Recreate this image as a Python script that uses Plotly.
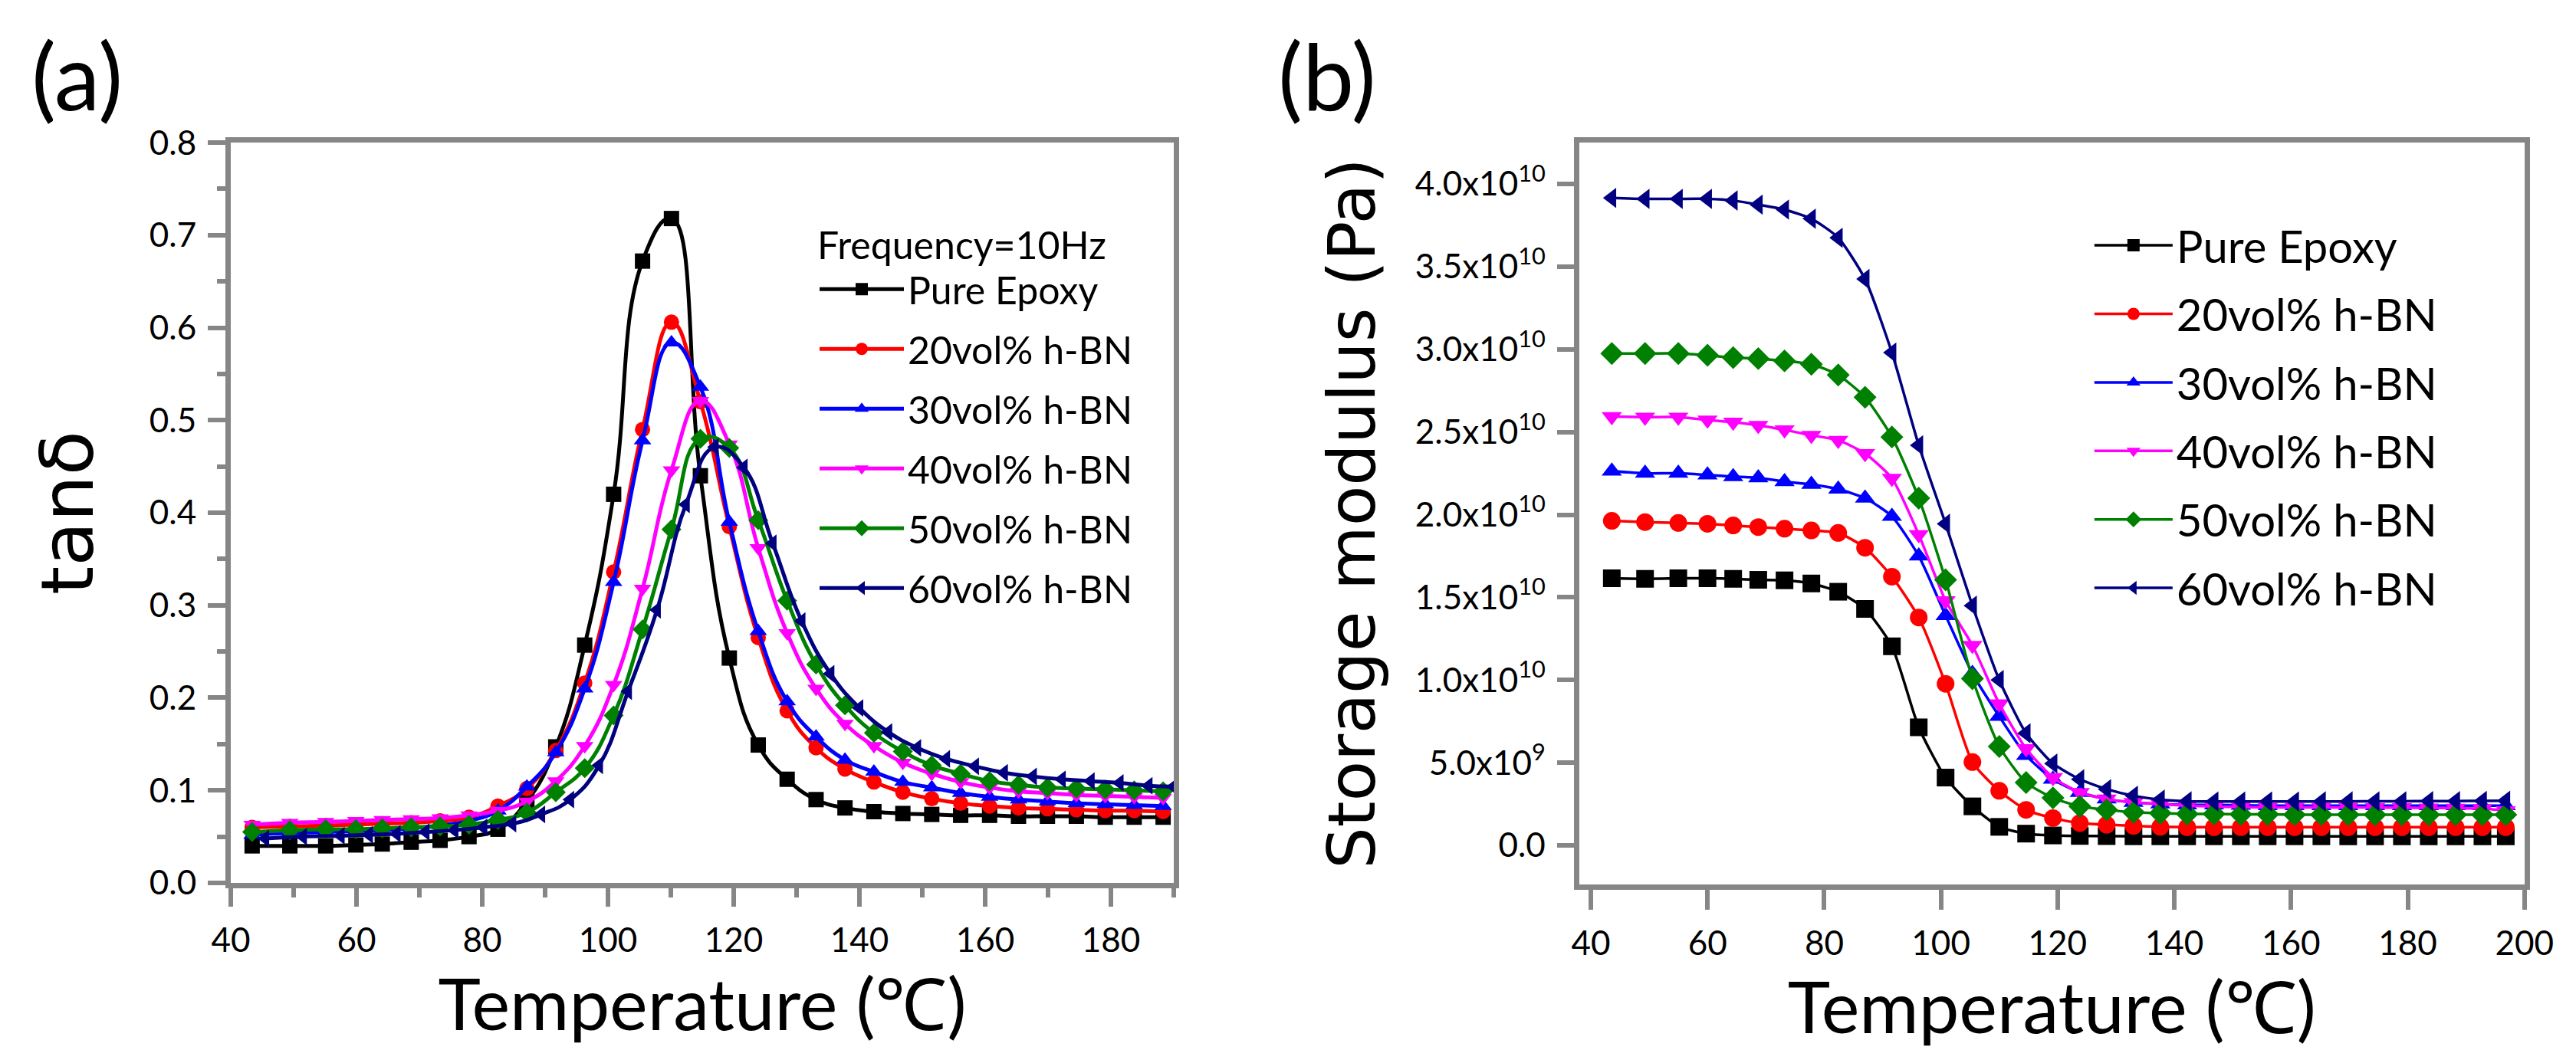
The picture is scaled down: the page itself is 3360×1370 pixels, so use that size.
import plotly.graph_objects as go

# ---------------- Panel (a): tan delta ----------------
t_a = [43.4, 49.4, 55.1, 59.9, 64.1, 68.7, 73.3, 77.9, 82.5, 87.1, 91.7, 96.3, 100.9, 105.5,
       110.1, 114.7, 119.3, 123.9, 128.5, 133.1, 137.7, 142.3, 146.9, 151.5, 156.1, 160.7,
       165.3, 169.9, 174.5, 179.1, 183.7, 188.3]
t_a60 = [45.5, 51.5, 57.5, 62.0, 66.4, 71.0, 75.6, 80.2, 84.8, 89.4, 94.0, 98.6, 103.2, 107.8,
         112.4, 117.0, 121.6, 126.2, 130.8, 135.4, 140.0, 144.6, 149.2, 153.8, 158.4, 163.0,
         167.6, 172.2, 176.8, 181.4, 186.0, 190.0]

tan_pure = [0.040, 0.040, 0.040, 0.041, 0.042, 0.044, 0.046, 0.050, 0.058, 0.088, 0.147, 0.257,
            0.420, 0.672, 0.718, 0.440, 0.243, 0.149, 0.112, 0.090, 0.081, 0.077, 0.075, 0.074,
            0.073, 0.073, 0.072, 0.072, 0.072, 0.071, 0.071, 0.071]
tan_20 = [0.060, 0.061, 0.062, 0.063, 0.064, 0.065, 0.067, 0.071, 0.083, 0.102, 0.143, 0.216,
          0.336, 0.490, 0.606, 0.520, 0.385, 0.265, 0.186, 0.146, 0.123, 0.109, 0.098, 0.091,
          0.086, 0.083, 0.081, 0.080, 0.079, 0.078, 0.078, 0.077]
tan_30 = [0.052, 0.054, 0.055, 0.056, 0.057, 0.059, 0.062, 0.067, 0.078, 0.104, 0.141, 0.210,
          0.325, 0.478, 0.584, 0.536, 0.390, 0.272, 0.196, 0.158, 0.133, 0.120, 0.109, 0.103,
          0.097, 0.093, 0.090, 0.088, 0.086, 0.085, 0.084, 0.083]
tan_40 = [0.063, 0.065, 0.066, 0.067, 0.068, 0.069, 0.070, 0.073, 0.078, 0.088, 0.110, 0.148,
          0.214, 0.318, 0.446, 0.521, 0.474, 0.362, 0.270, 0.210, 0.172, 0.148, 0.130, 0.118,
          0.109, 0.103, 0.099, 0.097, 0.095, 0.094, 0.093, 0.092]
tan_50 = [0.055, 0.057, 0.058, 0.058, 0.059, 0.060, 0.061, 0.063, 0.068, 0.076, 0.098, 0.124,
          0.181, 0.274, 0.382, 0.480, 0.470, 0.392, 0.305, 0.236, 0.192, 0.162, 0.142, 0.127,
          0.118, 0.110, 0.106, 0.103, 0.102, 0.101, 0.100, 0.099]
tan_60 = [0.048, 0.050, 0.051, 0.052, 0.053, 0.055, 0.057, 0.060, 0.064, 0.074, 0.090, 0.127,
          0.207, 0.295, 0.409, 0.471, 0.449, 0.367, 0.283, 0.226, 0.189, 0.163, 0.146, 0.134,
          0.126, 0.119, 0.115, 0.112, 0.110, 0.108, 0.105, 0.104]

# ---------------- Panel (b): storage modulus ----------------
t_b = [43.6, 49.3, 55.0, 60.0, 64.4, 68.7, 73.2, 77.8, 82.4, 87.0, 91.6, 96.2, 100.8, 105.4,
       110.0, 114.6, 119.2, 123.8, 128.4, 133.0, 137.6, 142.2, 146.8, 151.4, 156.0, 160.6,
       165.2, 169.8, 174.4, 179.0, 183.6, 188.2, 192.8, 196.8]

e_pure = [1.615e10, 1.612e10, 1.615e10, 1.615e10, 1.612e10, 1.606e10, 1.603e10, 1.584e10,
          1.534e10, 1.430e10, 1.204e10, 7.14e9, 4.10e9, 2.36e9, 1.12e9, 7.1e8, 6.0e8, 5.7e8,
          5.6e8, 5.5e8, 5.5e8, 5.5e8, 5.5e8, 5.5e8, 5.5e8, 5.5e8, 5.5e8, 5.5e8, 5.5e8, 5.5e8,
          5.5e8, 5.5e8, 5.5e8, 5.5e8]
e_20 = [1.963e10, 1.955e10, 1.950e10, 1.945e10, 1.935e10, 1.925e10, 1.915e10, 1.905e10,
        1.890e10, 1.800e10, 1.625e10, 1.378e10, 9.77e9, 5.04e9, 3.30e9, 2.15e9, 1.65e9, 1.35e9,
        1.25e9, 1.18e9, 1.12e9, 1.10e9, 1.10e9, 1.10e9, 1.10e9, 1.10e9, 1.10e9, 1.10e9, 1.10e9,
        1.10e9, 1.10e9, 1.10e9, 1.10e9, 1.10e9]
e_30 = [2.263e10, 2.250e10, 2.250e10, 2.240e10, 2.230e10, 2.223e10, 2.200e10, 2.183e10,
        2.154e10, 2.100e10, 1.990e10, 1.750e10, 1.390e10, 1.040e10, 7.80e9, 5.44e9, 4.00e9,
        3.20e9, 2.80e9, 2.60e9, 2.50e9, 2.45e9, 2.45e9, 2.42e9, 2.40e9, 2.40e9, 2.40e9, 2.40e9,
        2.40e9, 2.40e9, 2.40e9, 2.40e9, 2.40e9, 2.40e9]
e_40 = [2.593e10, 2.590e10, 2.590e10, 2.573e10, 2.560e10, 2.540e10, 2.513e10, 2.480e10,
        2.450e10, 2.370e10, 2.220e10, 1.880e10, 1.480e10, 1.210e10, 8.56e9, 5.85e9, 4.10e9,
        3.20e9, 2.80e9, 2.60e9, 2.50e9, 2.40e9, 2.35e9, 2.32e9, 2.30e9, 2.30e9, 2.30e9, 2.30e9,
        2.28e9, 2.28e9, 2.26e9, 2.25e9, 2.22e9, 2.10e9]
e_50 = [2.975e10, 2.975e10, 2.975e10, 2.964e10, 2.950e10, 2.944e10, 2.930e10, 2.910e10,
        2.845e10, 2.710e10, 2.470e10, 2.100e10, 1.606e10, 1.008e10, 5.98e9, 3.80e9, 2.87e9,
        2.36e9, 2.15e9, 2.00e9, 1.95e9, 1.90e9, 1.90e9, 1.88e9, 1.88e9, 1.86e9, 1.86e9, 1.86e9,
        1.85e9, 1.85e9, 1.85e9, 1.85e9, 1.85e9, 1.85e9]
e_60 = [3.916e10, 3.910e10, 3.910e10, 3.910e10, 3.900e10, 3.875e10, 3.845e10, 3.790e10,
        3.675e10, 3.425e10, 2.980e10, 2.420e10, 1.945e10, 1.450e10, 1.000e10, 6.78e9, 4.95e9,
        4.00e9, 3.40e9, 3.00e9, 2.77e9, 2.67e9, 2.65e9, 2.65e9, 2.65e9, 2.65e9, 2.66e9, 2.66e9,
        2.67e9, 2.67e9, 2.68e9, 2.68e9, 2.69e9, 2.70e9]

series_names = ["Pure Epoxy", "20vol% h-BN", "30vol% h-BN", "40vol% h-BN", "50vol% h-BN", "60vol% h-BN"]
colors = ["#000000", "#FF0000", "#0000FF", "#FF00FF", "#008000", "#000080"]
symbols = ["square", "circle", "triangle-up", "triangle-down", "diamond", "triangle-left"]

ticks_a_x = [40, 60, 80, 100, 120, 140, 160, 180]
ticks_b_x = [40, 60, 80, 100, 120, 140, 160, 180, 200]
ticks_b_y = [0, 5e9, 1e10, 1.5e10, 2e10, 2.5e10, 3e10, 3.5e10, 4e10]
ticktext_b_y = ["0.0", "5.0x10<sup>9</sup>", "1.0x10<sup>10</sup>", "1.5x10<sup>10</sup>",
                "2.0x10<sup>10</sup>", "2.5x10<sup>10</sup>", "3.0x10<sup>10</sup>",
                "3.5x10<sup>10</sup>", "4.0x10<sup>10</sup>"]

AX = "#868686"
TICKFONT = dict(family="Lato, Liberation Sans Narrow, sans-serif", size=44, color="black")
LEGFONT = "Lato, Liberation Sans Narrow, sans-serif"
XTITLE = "Temperature (℃)"

fig = go.Figure()

tan_x = [t_a, t_a, t_a, t_a, t_a, t_a60]
tan_y = [tan_pure, tan_20, tan_30, tan_40, tan_50, tan_60]
for i in range(6):
    fig.add_trace(go.Scatter(
        x=tan_x[i], y=tan_y[i], mode="lines+markers", name=series_names[i],
        line=dict(color=colors[i], width=5, shape="spline", smoothing=1.3),
        marker=dict(symbol=symbols[i], size=20, color=colors[i]),
        xaxis="x", yaxis="y", legend="legend", legendgroup="a%d" % i))

e_y = [e_pure, e_20, e_30, e_40, e_50, e_60]
for i in range(6):
    fig.add_trace(go.Scatter(
        x=t_b, y=e_y[i], mode="lines+markers", name=series_names[i],
        line=dict(color=colors[i], width=3.5, shape="spline", smoothing=0.6),
        marker=dict(symbol=symbols[i], size=23, color=colors[i]),
        xaxis="x2", yaxis="y2", legend="legend2", legendgroup="b%d" % i))

axis_common = dict(showgrid=False, zeroline=False, showline=True, linecolor=AX, linewidth=7,
                   mirror=True, ticks="outside", tickcolor=AX, tickwidth=6,
                   tickfont=TICKFONT, ticklabelstandoff=6, ticklabeloverflow="allow")

fig.update_layout(
    width=3360, height=1370, margin=dict(l=0, r=0, t=0, b=0),
    paper_bgcolor="white", plot_bgcolor="white",
    xaxis=dict(domain=[0.0810, 0.4542], range=[40, 190], tickvals=ticks_a_x, ticklen=24,
               minor=dict(dtick=10, tick0=40, ticks="outside", ticklen=12, tickwidth=6, tickcolor=AX),
               title=dict(text=XTITLE, font=dict(family="Lato, sans-serif", size=94, color="black"),
                          standoff=30),
               anchor="y", **axis_common),
    yaxis=dict(domain=[0.1533, 0.8861], range=[0, 0.8], dtick=0.1, tick0=0, tickformat=".1f",
               ticklen=23,
               minor=dict(dtick=0.05, tick0=0, ticks="outside", ticklen=11, tickwidth=6, tickcolor=AX),
               title=dict(text="tanδ", font=dict(family="DejaVu Sans, sans-serif", size=95, color="black"),
                          standoff=44),
               anchor="x", **axis_common),
    xaxis2=dict(domain=[0.6146, 0.9887], range=[38, 200], tickvals=ticks_b_x, ticklen=26,
                title=dict(text=XTITLE, font=dict(family="Lato, sans-serif", size=94, color="black"),
                           standoff=30),
                anchor="y2", **axis_common),
    yaxis2=dict(domain=[0.1518, 0.8861], range=[-2.36e9, 4.25e10], tickvals=ticks_b_y,
                ticktext=ticktext_b_y, ticklen=22,
                title=dict(text="Storage modulus (Pa)", font=dict(family="DejaVu Sans, sans-serif", size=86, color="black"),
                           standoff=26),
                anchor="x2", **axis_common),
    legend=dict(x=0.3125, y=0.82, xanchor="left", yanchor="top", bgcolor="rgba(0,0,0,0)",
                font=dict(family=LEGFONT, size=50, color="black"), tracegroupgap=10,
                title=dict(text="Frequency=10Hz", font=dict(family=LEGFONT, size=50, color="black")),
                itemwidth=110),
    legend2=dict(x=0.817, y=0.818, xanchor="left", yanchor="top", bgcolor="rgba(0,0,0,0)",
                 font=dict(family=LEGFONT, size=58, color="black"), tracegroupgap=11,
                 itemwidth=102),
    annotations=[
        dict(text="(a)", x=0.0015, y=0.9526, xref="paper", yref="paper", xanchor="left", yanchor="middle",
             showarrow=False, font=dict(family="Lato, sans-serif", size=120, color="black")),
        dict(text="(b)", x=0.4949, y=0.9526, xref="paper", yref="paper", xanchor="left", yanchor="middle",
             showarrow=False, font=dict(family="Lato, sans-serif", size=120, color="black")),
    ],
)

fig.write_html("out.html")
